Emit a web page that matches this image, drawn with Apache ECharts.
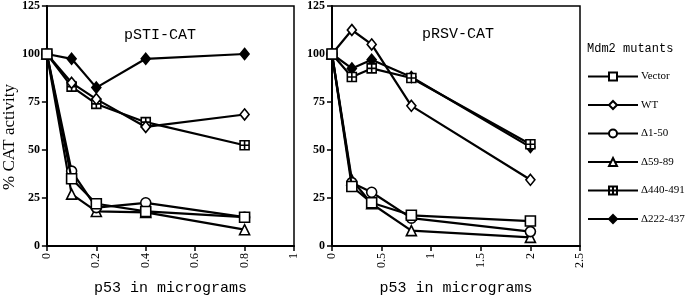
<!DOCTYPE html>
<html>
<head>
<meta charset="utf-8">
<script src="https://cdn.jsdelivr.net/npm/echarts@6/dist/echarts.min.js"></script>
<style>
  html, body { margin: 0; padding: 0; background: #fff; }
  #chart { width: 685px; height: 301px; }
</style>
</head>
<body>
<div id="chart"></div>
<script>
// 数据
const seriesNames = ['Vector', 'WT', 'Δ1-50', 'Δ59-89', 'Δ440-491', 'Δ222-437']
const xLeft = [0, 0.1, 0.2, 0.4, 0.8] // pSTI-CAT
const xRight = [0, 0.2, 0.4, 0.8, 2] // pRSV-CAT
const leftVector = [100, 35, 22, 18, 15]
const leftWT = [100, 85, 76.5, 62, 68.5]
const leftD1 = [100, 39, 20, 22.5, 15]
const leftD59 = [100, 27, 18, 17.5, 8.5]
const leftD440 = [100, 83, 74, 64.5, 52.5]
const leftD222 = [100, 97.5, 82.5, 97.5, 100]
const rightVector = [100, 31, 22.5, 16, 13]
const rightWT = [100, 112.5, 105, 73, 34.5]
const rightD1 = [100, 33, 28, 14.5, 7.5]
const rightD59 = [100, 34.5, 22, 8, 4.5]
const rightD440 = [100, 88, 92.5, 87.5, 53]
const rightD222 = [100, 92.5, 97, 88, 51.5]

const serif = 'Liberation Serif'
const mono = 'Liberation Mono'

// 标记样式
const symbols = [
  { symbol: 'rect', fill: '#fff', size: 10 },
  { symbol: 'diamond', fill: '#fff', size: [9, 11] },
  { symbol: 'circle', fill: '#fff', size: 10 },
  { symbol: 'triangle', fill: '#fff', size: 10 },
  { symbol: 'path://M0,0L10,0L10,10L0,10Z M5,0L5,10 M0,5L10,5', fill: '#fff', size: 9 },
  { symbol: 'diamond', fill: '#000', size: [9, 11] }
]

const leftData = [leftVector, leftWT, leftD1, leftD59, leftD440, leftD222]
const rightData = [rightVector, rightWT, rightD1, rightD59, rightD440, rightD222]

const makeSeries = (idx, xs, ys, gridIdx) => ({
  name: seriesNames[idx],
  type: 'line',
  xAxisIndex: gridIdx,
  yAxisIndex: gridIdx,
  data: xs.map((x, i) => [x, ys[i]]),
  symbol: symbols[idx].symbol,
  symbolSize: symbols[idx].size,
  showAllSymbol: true,
  z: 10 - idx,
  lineStyle: { color: '#000', width: 2.2 },
  itemStyle: { color: symbols[idx].fill, borderColor: '#000', borderWidth: 1.6 },
  emphasis: { disabled: true },
  animation: false
})

const series = []
// 反向推入，让方块在最上层
for (let i = seriesNames.length - 1; i >= 0; i--) {
  series.push(makeSeries(i, xLeft, leftData[i], 0))
  series.push(makeSeries(i, xRight, rightData[i], 1))
}

const yAxisBase = {
  type: 'value',
  min: 0,
  max: 125,
  interval: 25,
  splitLine: { show: false },
  axisLine: { show: true, lineStyle: { color: '#000', width: 2 } },
  axisTick: { show: true, length: 5, lineStyle: { color: '#000', width: 1.5 } },
  axisLabel: { color: '#000', fontFamily: serif, fontSize: 12, fontWeight: 'bold', margin: 7 }
}

const xAxisBase = {
  type: 'value',
  min: 0,
  splitLine: { show: false },
  axisLine: { show: true, onZero: false, lineStyle: { color: '#000', width: 2 } },
  axisTick: { show: true, length: 5, lineStyle: { color: '#000', width: 1.5 } },
  axisLabel: { color: '#000', fontFamily: serif, fontSize: 12, rotate: 90, margin: 7 },
  name: 'p53 in micrograms',
  nameLocation: 'middle',
  nameGap: 35,
  nameTextStyle: { color: '#000', fontFamily: mono, fontSize: 15 }
}

const myChart = echarts.init(document.getElementById('chart'))
myChart.setOption({
  animation: false,
  title: [
    { text: 'pSTI-CAT', left: 119, top: 23, textStyle: { fontFamily: mono, fontSize: 15, fontWeight: 'normal', color: '#000' } },
    { text: 'pRSV-CAT', left: 417, top: 22, textStyle: { fontFamily: mono, fontSize: 15, fontWeight: 'normal', color: '#000' } },
    { text: 'Mdm2 mutants', left: 582, top: 38, textStyle: { fontFamily: mono, fontSize: 12, fontWeight: 'normal', color: '#000' } }
  ],
  legend: {
    orient: 'vertical',
    left: 582,
    top: 66,
    itemWidth: 50,
    itemHeight: 10,
    itemGap: 17.5,
    selectedMode: false,
    data: seriesNames,
    textStyle: { fontFamily: serif, fontSize: 11, color: '#000', padding: [0, 0, 0, -2] }
  },
  grid: [
    { left: 45, top: 6, width: 249, height: 249, show: true, borderColor: '#000', borderWidth: 1.5 },
    { left: 332, top: 5, width: 248, height: 249, show: true, borderColor: '#000', borderWidth: 1.5 }
  ],
  xAxis: [
    Object.assign({}, xAxisBase, { gridIndex: 0, max: 1, interval: 0.2 }),
    Object.assign({}, xAxisBase, { gridIndex: 1, max: 2.5, interval: 0.5 })
  ],
  yAxis: [
    Object.assign({}, yAxisBase, {
      gridIndex: 0,
      name: '% CAT activity',
      nameLocation: 'middle',
      nameGap: 25,
      nameTextStyle: { color: '#000', fontFamily: serif, fontSize: 17, padding: [0, 22, 0, 0] }
    }),
    Object.assign({}, yAxisBase, { gridIndex: 1 })
  ],
  series: series
})
</script>
</body>
</html>
